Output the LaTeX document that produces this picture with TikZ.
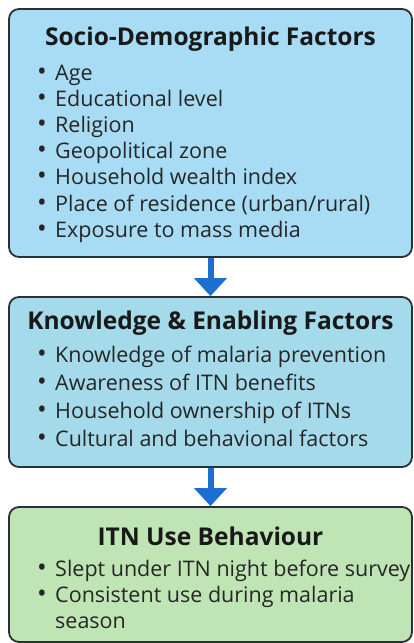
\documentclass[tikz,border=0pt]{standalone}
\usepackage{fontspec}
\setmainfont{Open Sans}
\usepackage{xcolor}
\usetikzlibrary{arrows.meta, positioning}

\definecolor{socioblue}{HTML}{A8DCF5}
\definecolor{knowblue}{HTML}{A4DAE9}
\definecolor{usegreen}{HTML}{C0E5B5}
\definecolor{boxline}{HTML}{263238}
\definecolor{arrowblue}{HTML}{1C6FD1}

\newcommand{\bul}{\makebox[19pt][l]{\hspace{1pt}\scalebox{1.2}{•}}}

\begin{document}
\begin{tikzpicture}[x=1pt,y=-1pt,>={Triangle[width=32pt,length=18pt]},node distance=26.2pt]
                \tikzset{box/.style={draw=boxline, line width=1.8pt, rounded corners=10pt, minimum width=403pt, inner sep=0pt},
                         heading/.style={anchor=base, inner sep=0pt, font=\fontsize{24.5}{28}\selectfont\bfseries, text=black!90},
                         item/.style={anchor=base west, inner sep=0pt, font=\fontsize{21.5}{26}\selectfont, text=black!85},
                         link/.style={->, draw=arrowblue, line width=6pt}}

                \useasboundingbox (0,0) rectangle (414,643);

                % the three stages
                \node[box, fill=socioblue, minimum height=248pt] (A) at (210.5,133) {};
                \node[box, fill=knowblue, minimum height=170pt] (B) at (210.5,382) {};
                \node[box, fill=usegreen, minimum height=135pt] (C) at (210.5,574.5) {};

                \path (A) edge[link] (B);
                \path (B) edge[link] (C);

                % socio-demographic factors
                \node[below=37pt of A.north, heading] (A0) {Socio-Demographic Factors};
                \node[item] (A1) at (36,80) {\bul Age};
                \node[below=of A1.base west, item] (A2) {\bul Educational level};
                \node[below=of A2.base west, item] (A3) {\bul Religion};
                \node[below=of A3.base west, item] (A4) {\bul Geopolitical zone};
                \node[below=of A4.base west, item] (A5) {\bul Household wealth index};
                \node[below=of A5.base west, item] (A6) {\bul Place of residence (urban/rural)};
                \node[below=of A6.base west, item] (A7) {\bul Exposure to mass media};

                % knowledge and enabling factors
                \node[below=33pt of B.north, heading] (B0) {Knowledge \& Enabling Factors};
                \node[item] (B1) at (36,362) {\bul Knowledge of malaria prevention};
                \node[below=28pt of B1.base west, item] (B2) {\bul Awareness of ITN benefits};
                \node[below=28pt of B2.base west, item] (B3) {\bul Household ownership of ITNs};
                \node[below=28pt of B3.base west, item] (B4) {\bul Cultural and behavional factors};

                % use behaviour
                \node[below=39pt of C.north, heading] (C0) {ITN Use Behaviour};
                \node[item] (C1) at (36,576) {\bul Slept under ITN night before survey};
                \node[below=of C1.base west, item] (C2) {\bul Consistent use during malaria};
                \node[below=of C2.base west, item, xshift=19pt] (C3) {season};
            \end{tikzpicture}
\end{document}
